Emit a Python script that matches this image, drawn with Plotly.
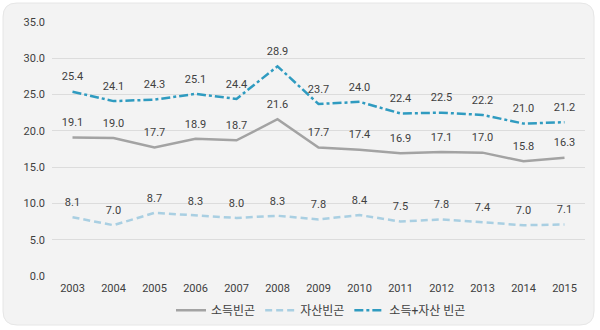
import plotly.graph_objects as go

years = [str(y) for y in range(2003, 2016)]
income = [19.1, 19.0, 17.7, 18.9, 18.7, 21.6, 17.7, 17.4, 16.9, 17.1, 17.0, 15.8, 16.3]
asset = [8.1, 7.0, 8.7, 8.3, 8.0, 8.3, 7.8, 8.4, 7.5, 7.8, 7.4, 7.0, 7.1]
combined = [25.4, 24.1, 24.3, 25.1, 24.4, 28.9, 23.7, 24.0, 22.4, 22.5, 22.2, 21.0, 21.2]
names = ["소득빈곤", "자산빈곤", "소득+자산 빈곤"]
yticks = [0, 5, 10, 15, 20, 25, 30, 35]

FONT = "Roboto, Noto Sans CJK KR, sans-serif"
fig = go.Figure()
styles = [
    (income, names[0], "#a3a3a3", "solid"),
    (asset, names[1], "#a9cfe2", "7px,4px"),
    (combined, names[2], "#2f9bc0", "dashdot"),
]
for vals, nm, col, dash in styles:
    fig.add_trace(go.Scatter(
        x=years, y=vals, name=nm, mode="lines",
        line=dict(color=col, width=2.5, dash=dash),
        hoverinfo="skip",
    ))
for vals, nm, col, dash in styles:
    fig.add_trace(go.Scatter(
        x=years, y=vals, name=nm, mode="markers+text", showlegend=False,
        marker=dict(size=12, opacity=0, color=col),
        text=[f"{v:.1f}" for v in vals], textposition="top center",
        textfont=dict(size=11, color="#404040", family=FONT),
        cliponaxis=False,
    ))

L, R, T, B = 52, 15, 22, 54
fig.update_layout(
    width=600, height=330,
    margin=dict(l=L, r=R, t=T, b=B, autoexpand=False),
    paper_bgcolor="white", plot_bgcolor="rgba(0,0,0,0)",
    font=dict(family=FONT, size=11, color="#404040"),
    showlegend=True,
    legend=dict(orientation="h", x=0.535, xanchor="center", xref="container",
                y=0.06, yanchor="middle", yref="container",
                font=dict(size=12, color="#404040"), bgcolor="rgba(0,0,0,0)",
                itemwidth=30, tracegroupgap=0),
    xaxis=dict(type="category", range=[-0.5, 12.5], showgrid=False, zeroline=False,
               showline=False, ticks="", tickfont=dict(size=11, color="#404040"),
               ticklabelstandoff=4),
    yaxis=dict(range=[0, 35], tickvals=yticks, tickformat=".1f", showgrid=True,
               gridcolor="#dcdcdc", gridwidth=1, zeroline=False, showline=False,
               ticks="", tickfont=dict(size=11, color="#404040"), ticklabelstandoff=6),
)
pw, ph = 600 - L - R, 330 - T - B
def px(x):
    return (x - L) / pw
def py(y):
    return (330 - B - y) / ph
x0, y0, x1, y1, r = 3, 3, 594, 325, 14
path = (f"M {px(x0+r)},{py(y0)} L {px(x1-r)},{py(y0)} Q {px(x1)},{py(y0)} {px(x1)},{py(y0+r)} "
        f"L {px(x1)},{py(y1-r)} Q {px(x1)},{py(y1)} {px(x1-r)},{py(y1)} "
        f"L {px(x0+r)},{py(y1)} Q {px(x0)},{py(y1)} {px(x0)},{py(y1-r)} "
        f"L {px(x0)},{py(y0+r)} Q {px(x0)},{py(y0)} {px(x0+r)},{py(y0)} Z")
fig.layout.shapes = [dict(type="path", xref="paper", yref="paper", layer="below",
                          path=path, line=dict(width=1, color="#e6e6e6"), fillcolor="#f3f3f3")]
fig.write_html("out.html")
